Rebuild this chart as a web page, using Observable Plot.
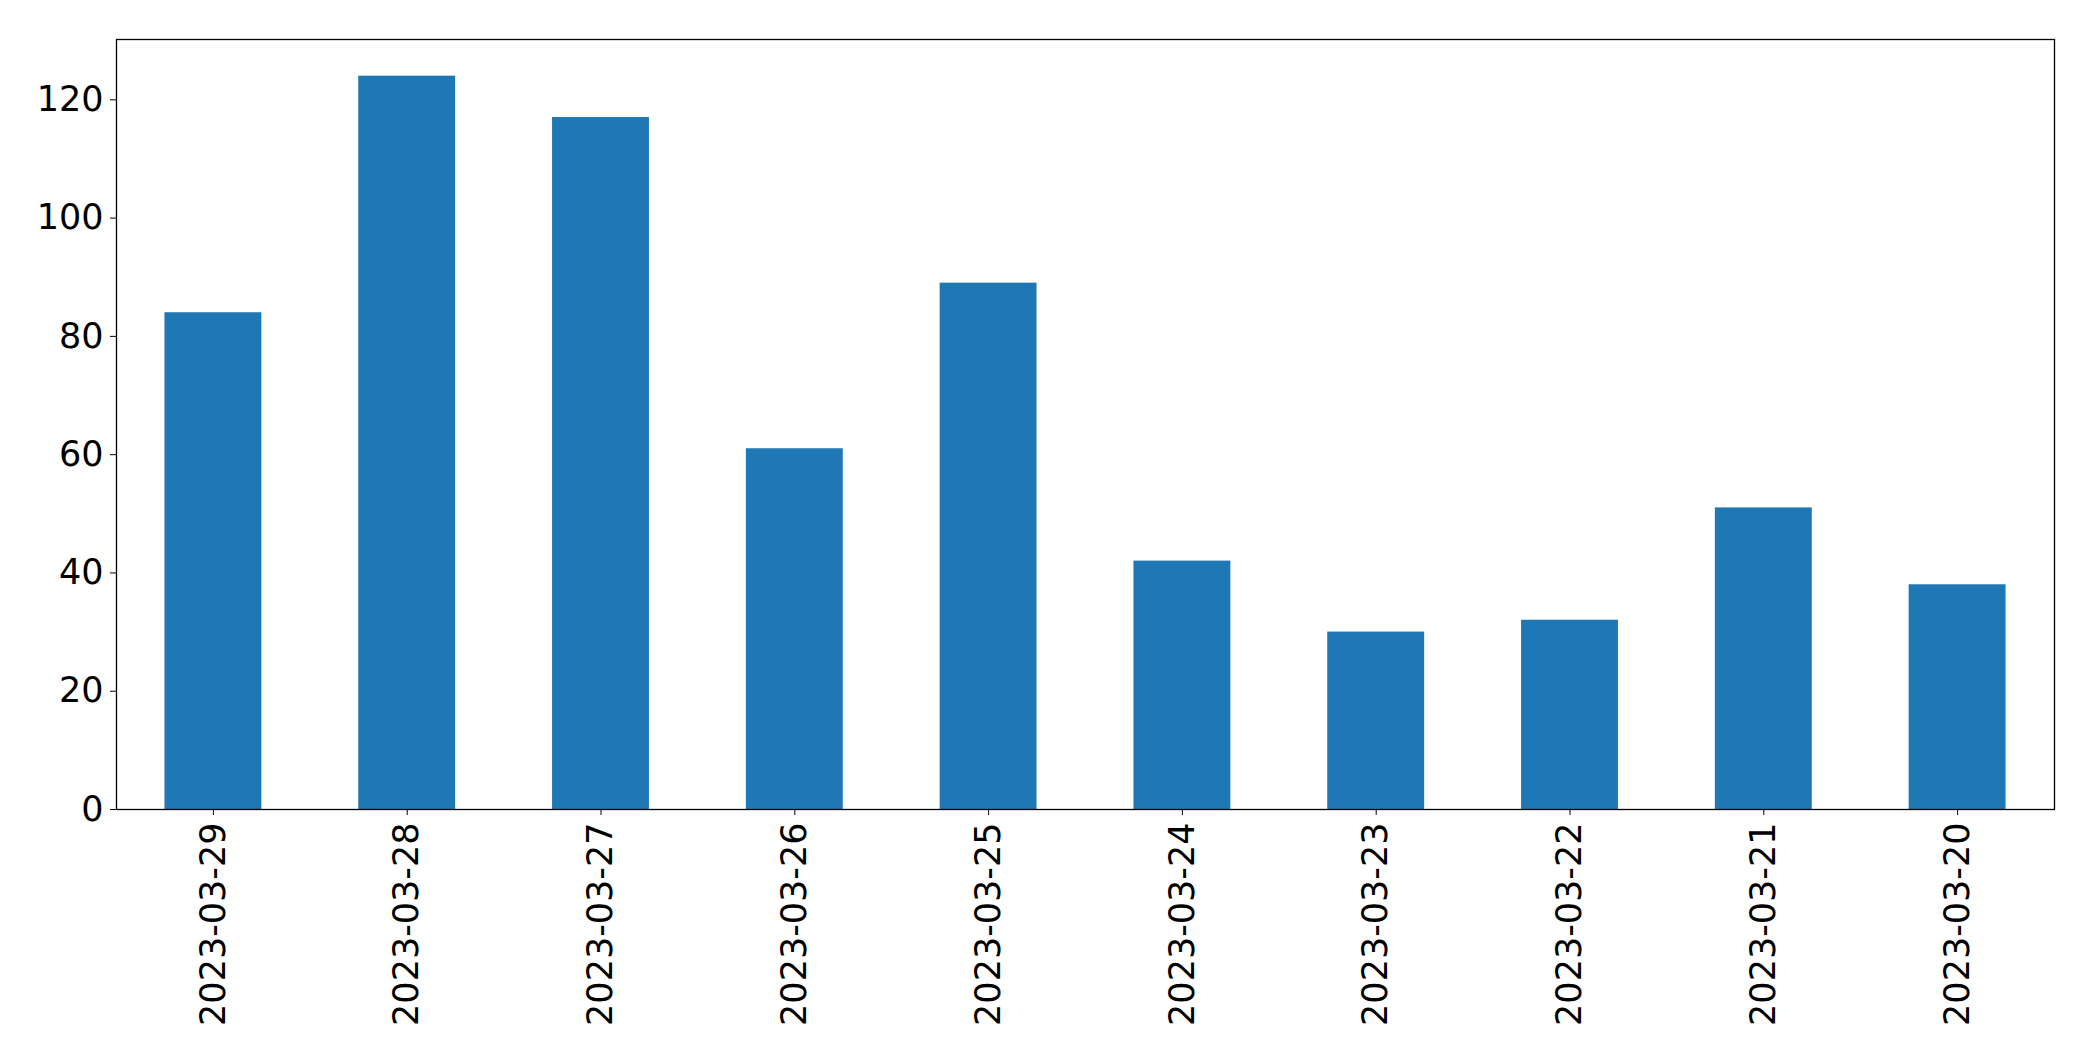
<!DOCTYPE html>
<html>
<head>
<meta charset="utf-8">
<script src="https://cdn.jsdelivr.net/npm/d3@7"></script>
<script src="https://cdn.jsdelivr.net/npm/@observablehq/plot@0.6"></script>
<style>
  html, body { margin: 0; padding: 0; background: white; }
</style>
</head>
<body>
<div id="chart"></div>
<script>
const dates = ["2023-03-29","2023-03-28","2023-03-27","2023-03-26","2023-03-25","2023-03-24","2023-03-23","2023-03-22","2023-03-21","2023-03-20"];
const counts = [84, 124, 117, 61, 89, 42, 30, 32, 51, 38];
const yTicks = [0, 20, 40, 60, 80, 100, 120];

const data = dates.map((d, i) => ({date: d, count: counts[i]}));

const chart = Plot.plot({
  width: 2093,
  height: 1061,
  marginLeft: 116,
  marginTop: 39,
  marginRight: 39,
  marginBottom: 252,
  style: {fontFamily: "DejaVu Sans", fontSize: "35px", background: "white", color: "black"},
  x: {domain: dates, paddingInner: 0.5, paddingOuter: 0.25, round: false, label: null},
  y: {domain: [0, 130.2], label: null},
  marks: [
    Plot.barY(data, {x: "date", y: "count", fill: "#1f77b4"}),
    Plot.frame({stroke: "black", strokeWidth: 1.3}),
    Plot.axisY({ticks: yTicks, tickSize: 6, tickPadding: 7, fontSize: 35, label: null, stroke: "black"}),
    Plot.axisX({tickRotate: -90, tickSize: 6, tickPadding: 7, fontSize: 35, label: null, stroke: "black"})
  ]
});
document.getElementById("chart").appendChild(chart);
</script>
</body>
</html>
